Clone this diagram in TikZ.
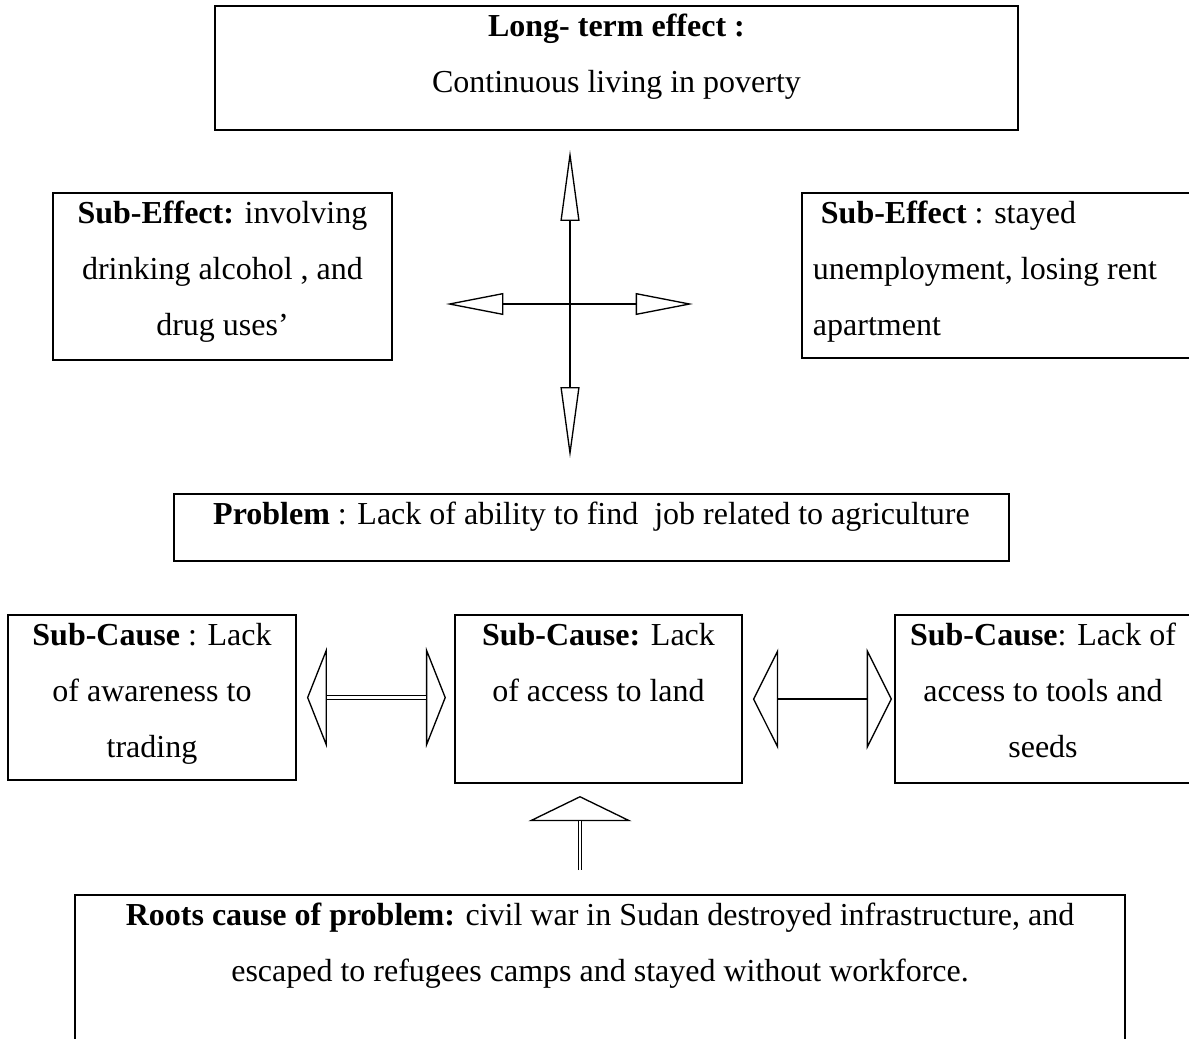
\documentclass[tikz,border=0pt]{standalone}
\usepackage{fontspec}
\setmainfont{Liberation Serif}
\usepackage{tikz}
\usetikzlibrary{arrows.meta, calc}
\tikzset{
  tree box/.style={
    draw,
    line width=0.75pt,
    anchor=north west,
    inner xsep=0pt, inner ysep=0pt, outer sep=0pt,
    font=\fontsize{12}{21}\selectfont,
    align=flush center,
    text height=11.6pt
  },
  vert arrow/.style={
    line width=0.75pt,
    {Triangle[open, length=26.6pt, width=7.1pt, line width=0.5pt]}-{Triangle[open, length=26.6pt, width=7.1pt, line width=0.5pt]}
  },
  horiz arrow/.style={
    line width=0.5pt,
    {Triangle[open, length=21.5pt, width=8.2pt]}-{Triangle[open, length=21.5pt, width=8.2pt]}
  },
  block head/.style={
    white,
    {Triangle[color=black, open, length=#1, width=37.9pt, line width=0.5pt]}-{Triangle[color=black, open, length=#1, width=37.9pt, line width=0.5pt]}
  },
  block shaft/.style={double, double distance=0.9pt, line width=0.45pt},
  side arrow/.style={
    line width=0.5pt,
    {Triangle[open, length=9.5pt, width=37.9pt]}-{Triangle[open, length=9.5pt, width=37.9pt]}
  },
  up head/.style={
    white,
    -{Triangle[color=black, open, length=9.4pt, width=38.6pt, line width=0.5pt]}
  }
}

\begin{document}
\begin{tikzpicture}[x=0.375pt, y=-0.375pt]
  \clip (0,0) rectangle (1189,1038);

  % effects
  \node[tree box, text width=301.1pt, text depth=34.9pt] (longterm) at (215,6)
    {\textbf{Long- term effect :}\\Continuous living in poverty};
  \node[tree box, text width=127.1pt, text depth=51pt] (subeffL) at (53,193)
    {\textbf{Sub-Effect:} involving\\drinking alcohol , and\\drug uses'};
  \node[tree box, align=flush left, inner xsep=4.1pt, text width=141.8pt, text depth=50.3pt] (subeffR) at (802,193)
    {\hspace*{.25em}\textbf{Sub-Effect} : stayed\\unemployment, losing rent\\apartment};

  % problem
  \node[tree box, text width=313.1pt, text depth=13.5pt] (problem) at (174,494)
    {\textbf{Problem} : Lack of ability to find\ \ job related to agriculture};

  % causes
  \node[tree box, text width=108pt, text depth=50.3pt] (subcauseL) at (8,615)
    {\textbf{Sub-Cause} : Lack\\of awareness to\\trading};
  \node[tree box, text width=107.6pt, text depth=51.4pt] (subcauseM) at (455,615)
    {\textbf{Sub-Cause:} Lack\\of access to land};
  \node[tree box, text width=111pt, text depth=51.4pt] (subcauseR) at (895,615)
    {\textbf{Sub-Cause}: Lack of\\access to tools and\\seeds};
  \node[tree box, text width=393.8pt, text depth=48.4pt] (roots) at (75,895)
    {\textbf{Roots cause of problem:} civil war in Sudan destroyed infrastructure, and\\escaped to refugees camps and stayed without workforce.};

  % cross of arrows
  \coordinate (crossN) at (570,150);
  \coordinate (crossS) at (570,458);
  \coordinate (crossW) at (446,304);
  \coordinate (crossE) at (693,304);
  \draw[vert arrow] (crossS) -- (crossN);
  \draw[horiz arrow] (crossW) -- (crossE);

  % arrows between the causes
  \draw[block head=7.5pt, shorten <=4.1pt, shorten >=3.4pt]
    (subcauseL.east) -- (subcauseL.east -| subcauseM.west);
  \draw[block shaft, shorten <=11.6pt, shorten >=10.9pt]
    (subcauseL.east) -- (subcauseL.east -| subcauseM.west);
  \draw[side arrow, shorten <=4.1pt, shorten >=1.1pt] (subcauseM.east) -- (subcauseR.west);

  % root arrow
  \coordinate (upTail) at (580,870);
  \coordinate (upTip) at (580,796);
  \draw[up head] (upTail) -- (upTip);
  \draw[block shaft, shorten >=9.4pt] (upTail) -- (upTip);
\end{tikzpicture}
\end{document}
